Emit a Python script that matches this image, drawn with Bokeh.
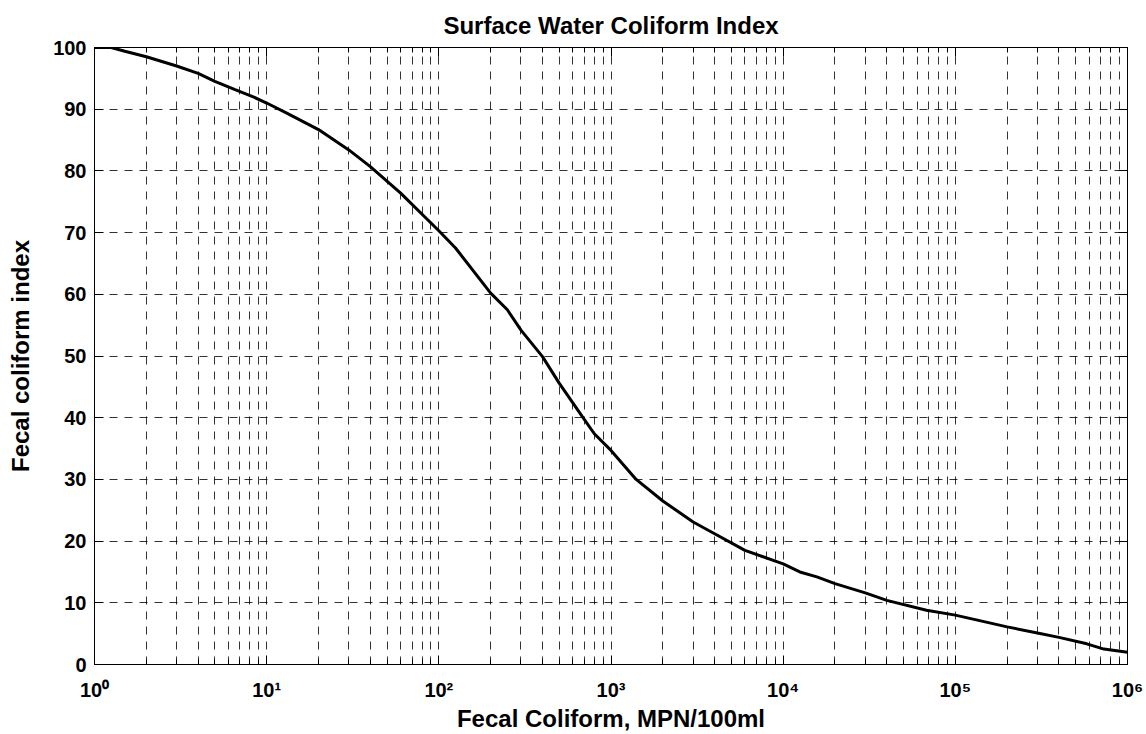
from bokeh.plotting import figure
from bokeh.models import (FixedTicker, CustomJSTickFormatter, LinearAxis, LogAxis, Range1d)
from bokeh.embed import file_html
from bokeh.resources import INLINE

# ---- data ----
fecal_coliform = [1, 1.25, 1.5, 2, 3, 4, 5, 6.5, 8.5, 10, 13, 20, 30, 40, 60, 100,
                  125, 200, 250, 300, 400, 500, 680, 800, 1000, 1400, 2000, 3000,
                  4000, 6000, 10000, 12500, 15700, 20000, 30000, 40000, 68000,
                  100000, 200000, 300000, 400000, 580000, 730000, 1000000]
coliform_index = [100, 100, 99.4, 98.5, 97, 95.8, 94.5, 93.2, 91.9, 91, 89.4, 86.7,
                  83.4, 80.7, 76.4, 70.3, 67.5, 60.2, 57.5, 54.2, 49.9, 45.6, 40.2,
                  37.4, 34.7, 30, 26.5, 23.1, 21.2, 18.5, 16.3, 15.0, 14.2, 13.1,
                  11.6, 10.4, 8.8, 8.0, 6.1, 5.1, 4.4, 3.35, 2.5, 2.0]

x_major = [1, 10, 100, 1000, 10000, 100000, 1000000]
x_labels = ["10\u2070", "10\u00b9", "10\u00b2", "10\u00b3", "10\u2074", "10\u2075", "10\u2076"]
x_minor = [m * 10 ** d for d in range(6) for m in range(2, 10)]
y_ticks = [0, 10, 20, 30, 40, 50, 60, 70, 80, 90, 100]

FONT = "Liberation Sans"

p = figure(width=1146, height=734, x_axis_type="log",
           x_range=Range1d(1, 1e6), y_range=Range1d(0, 100),
           output_backend="svg", toolbar_location=None,
           min_border_left=94, min_border_right=19,
           min_border_top=47, min_border_bottom=70,
           background_fill_color="white", border_fill_color="white")

p.title.text = "Surface Water Coliform Index"
p.title.align = "center"
p.title.text_font = FONT
p.title.text_font_size = "24px"
p.title.text_font_style = "bold"
p.title.text_color = "black"
p.title.standoff = 17

p.outline_line_color = "black"
p.outline_line_width = 1

xt = FixedTicker(ticks=x_major, minor_ticks=x_minor)
yt = FixedTicker(ticks=y_ticks, minor_ticks=[])

xa = p.xaxis[0]
xa.ticker = xt
xa.major_label_overrides = {float(v): s for v, s in zip(x_major, x_labels)}
ya = p.yaxis[0]
ya.ticker = yt

for ax in (xa, ya):
    ax.axis_line_color = "black"
    ax.major_tick_line_color = "black"
    ax.minor_tick_line_color = "black"
    ax.major_tick_in = 9
    ax.major_tick_out = 0
    ax.minor_tick_in = 5
    ax.minor_tick_out = 0
    ax.major_label_text_font = FONT
    ax.major_label_text_font_size = "20px"
    ax.major_label_text_font_style = "bold"
    ax.major_label_text_color = "black"
    ax.axis_label_text_font = FONT
    ax.axis_label_text_font_size = "24px"
    ax.axis_label_text_font_style = "bold"
    ax.axis_label_text_color = "black"

xa.axis_label = "Fecal Coliform, MPN/100ml"
ya.axis_label = "Fecal coliform index"
xa.major_label_standoff = 14
xa.axis_label_standoff = 1
ya.major_label_standoff = 8
ya.axis_label_standoff = 16

empty = CustomJSTickFormatter(code="return ''")
top_ax = LogAxis(ticker=xt, formatter=empty, major_tick_in=9, major_tick_out=0,
                 minor_tick_in=5, minor_tick_out=0, major_label_standoff=0,
                 axis_line_color="black", major_label_text_font_size="1px")
right_ax = LinearAxis(ticker=yt, formatter=empty, major_tick_in=9, major_tick_out=0,
                      minor_tick_in=0, minor_tick_out=0, major_label_standoff=0,
                      axis_line_color="black", major_label_text_font_size="1px")
p.add_layout(top_ax, "above")
p.add_layout(right_ax, "right")

for g in (p.xgrid[0], p.ygrid[0]):
    g.grid_line_color = "black"
    g.grid_line_alpha = 0.8
    g.grid_line_dash = "8 7"
    g.grid_line_width = 1
p.xgrid[0].minor_grid_line_color = "black"
p.xgrid[0].minor_grid_line_alpha = 0.8
p.xgrid[0].minor_grid_line_dash = "8 7"

p.line(fecal_coliform, coliform_index, line_color="black", line_width=3)

open("out.html", "w").write(file_html(p, INLINE))
